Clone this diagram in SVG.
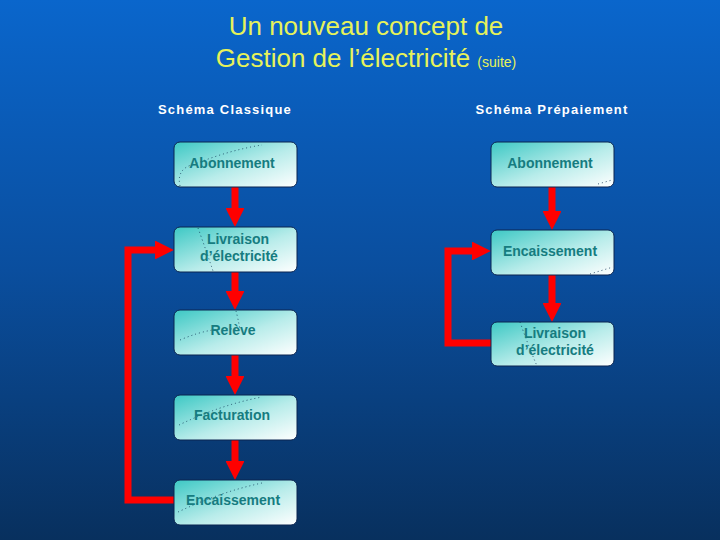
<svg xmlns="http://www.w3.org/2000/svg" width="720" height="540" viewBox="0 0 720 540">
<defs>
<linearGradient id="bg" x1="0" y1="0" x2="0" y2="1">
<stop offset="0" stop-color="#0A66CC"/>
<stop offset="0.5" stop-color="#0A4E9E"/>
<stop offset="1" stop-color="#08305E"/>
</linearGradient>
<linearGradient id="box" x1="0" y1="0" x2="1" y2="1">
<stop offset="0" stop-color="#3CC8C4"/>
<stop offset="0.55" stop-color="#B8ECEA"/>
<stop offset="1" stop-color="#FFFFFF"/>
</linearGradient>
<marker id="ah" viewBox="0 0 10 10" refX="0" refY="5" markerWidth="2.7" markerHeight="2.7" orient="auto" markerUnits="strokeWidth">
<path d="M0,0 L10,5 L0,10 Z" fill="#FF0000"/>
</marker>
</defs>
<style>
.box{fill:url(#box);stroke:#0B2550;stroke-width:1}
.lbl{font-family:"Liberation Sans",Arial,sans-serif;font-size:14px;font-weight:bold;fill:#167C80;text-anchor:middle}
.hd{font-family:"Liberation Sans",Arial,sans-serif;font-size:13px;font-weight:bold;fill:#FFFFFF;text-anchor:middle;letter-spacing:1.2px}
.ttl{font-family:"Liberation Sans",Arial,sans-serif;font-size:26px;fill:#E6F25A;text-anchor:middle}
.con{fill:none;stroke:#FF0000;stroke-width:7}
.dot{fill:none;stroke:#0B3050;stroke-width:0.8;stroke-dasharray:1 3}
</style>
<rect width="720" height="540" fill="url(#bg)"/>
<g id="title">
<text class="ttl" x="366" y="35">Un nouveau concept de</text>
<text class="ttl" x="366" y="67">Gestion de l’électricité <tspan font-size="14px">(suite)</tspan></text>
</g>
<text class="hd" x="225" y="114">Schéma Classique</text>
<text class="hd" x="552" y="114">Schéma Prépaiement</text>
<g id="connectors">
<path class="con" d="M235,187 V208" marker-end="url(#ah)"/>
<path class="con" d="M235,272 V291" marker-end="url(#ah)"/>
<path class="con" d="M235,355 V376" marker-end="url(#ah)"/>
<path class="con" d="M235,440 V461" marker-end="url(#ah)"/>
<path class="con" d="M174,500 H128 V250 H155" marker-end="url(#ah)"/>
<path class="con" d="M552,187 V211" marker-end="url(#ah)"/>
<path class="con" d="M552,275 V303" marker-end="url(#ah)"/>
<path class="con" d="M491,343 H448 V251 H472" marker-end="url(#ah)"/>
</g>
<g id="c-abonnement">
<rect class="box" x="174" y="142" width="123" height="45" rx="6"/>
<path class="dot" d="M180,186 Q176,168 195,164 Q230,150 262,145"/>
<text class="lbl" x="232" y="168">Abonnement</text>
</g>
<g id="c-livraison">
<rect class="box" x="174" y="227" width="123" height="45" rx="6"/>
<path class="dot" d="M198,228 Q206,250 213,271"/>
<text class="lbl" x="238" y="244">Livraison</text>
<text class="lbl" x="239" y="261">d’électricité</text>
</g>
<g id="c-releve">
<rect class="box" x="174" y="310" width="123" height="45" rx="6"/>
<path class="dot" d="M180,340 Q215,325 240,330 Q238,318 236,311"/>
<text class="lbl" x="233" y="335">Relève</text>
</g>
<g id="c-facturation">
<rect class="box" x="174" y="395" width="123" height="45" rx="6"/>
<path class="dot" d="M179,425 Q220,405 262,397"/>
<text class="lbl" x="232" y="420">Facturation</text>
</g>
<g id="c-encaissement">
<rect class="box" x="174" y="480" width="123" height="45" rx="6"/>
<path class="dot" d="M178,512 Q220,492 262,483"/>
<text class="lbl" x="233" y="505">Encaissement</text>
</g>
<g id="p-abonnement">
<rect class="box" x="491" y="142" width="123" height="45" rx="6"/>
<path class="dot" d="M598,184 L612,180"/>
<text class="lbl" x="550" y="168">Abonnement</text>
</g>
<g id="p-encaissement">
<rect class="box" x="491" y="230" width="123" height="45" rx="6"/>
<path class="dot" d="M590,274 L613,267"/>
<text class="lbl" x="550" y="256">Encaissement</text>
</g>
<g id="p-livraison">
<rect class="box" x="491" y="322" width="123" height="44" rx="6"/>
<path class="dot" d="M520,322 Q528,345 537,366"/>
<text class="lbl" x="555" y="338">Livraison</text>
<text class="lbl" x="555" y="355">d’électricité</text>
</g>
</svg>
